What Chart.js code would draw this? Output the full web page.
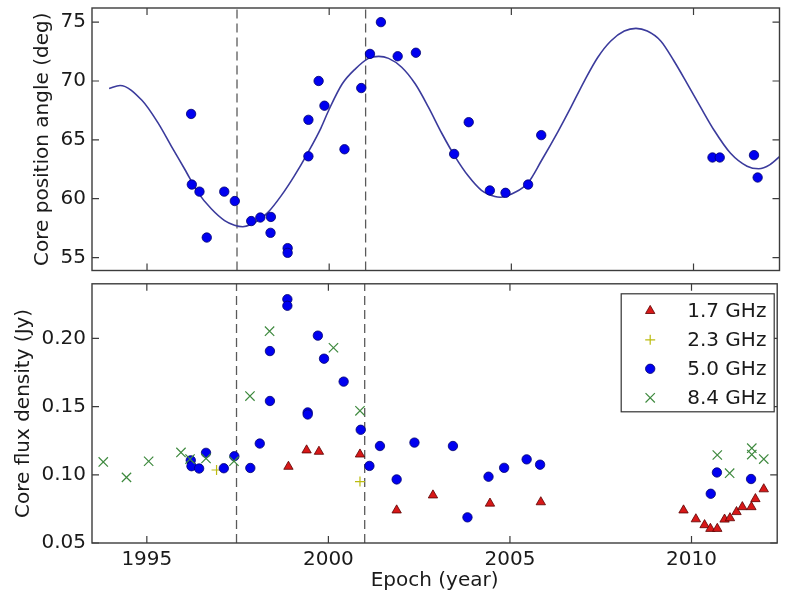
<!DOCTYPE html>
<html><head><meta charset="utf-8">
<script src="https://cdn.jsdelivr.net/npm/chart.js@4.4.0/dist/chart.umd.min.js"></script>
<style>
html,body{margin:0;padding:0;background:#fff;width:785px;height:597px;overflow:hidden}
#top{position:absolute;left:0;top:0}
#bot{position:absolute;left:0;top:276px}
</style></head><body>
<canvas id="top" width="785" height="276"></canvas>
<canvas id="bot" width="785" height="321"></canvas>
<script>
// ---- axes ----
const X_MIN = 1993.49, X_MAX = 2012.36;
const X_TICKS = [1995, 2000, 2005, 2010];
const X_LABELS = ['1995', '2000', '2005', '2010'];
const VLINES = [1997.47, 2001.0];
const PA_MIN = 53.9, PA_MAX = 76.2;
const PA_TICKS = [55, 60, 65, 70, 75];
const PA_LABELS = ['55', '60', '65', '70', '75'];
const FLUX_MIN = 0.05, FLUX_MAX = 0.24;
const FLUX_TICKS = [0.05, 0.10, 0.15, 0.20];
const FLUX_LABELS = ['0.05', '0.10', '0.15', '0.20'];

// ---- top panel: core position angle ----
const paEpoch = [1996.21,1996.23,1996.44,1996.64,1997.12,1997.41,1997.86,1998.11,1998.40,1998.39,1998.86,1998.86,1999.43,1999.43,1999.71,1999.87,2000.42,2000.88,2001.12,2001.42,2001.88,2002.38,2003.43,2003.83,2004.41,2004.84,2005.46,2005.82,2010.52,2010.72,2011.66,2011.76];
const paValue = [67.2,61.2,60.6,56.7,60.6,59.8,58.1,58.4,58.45,57.1,55.8,55.4,63.6,66.7,70.0,67.9,64.2,69.4,72.3,75.0,72.1,72.4,63.8,66.5,60.7,60.5,61.2,65.4,63.5,63.5,63.7,61.8];

// fitted curve
const fitEpoch = [1993.96,1994.26,1994.86,1995.31,1995.67,1996.04,1996.40,1996.77,1997.13,1997.40,1997.63,1997.85,1998.04,1998.32,1998.68,1999.04,1999.41,1999.77,2000.00,2000.36,2000.72,2001.08,2001.36,2001.63,2001.99,2002.36,2002.72,2003.09,2003.45,2003.82,2004.18,2004.55,2004.70,2005.09,2005.46,2005.82,2006.28,2006.64,2007.01,2007.37,2007.73,2008.10,2008.42,2008.73,2009.10,2009.46,2009.83,2010.19,2010.56,2011.01,2011.47,2011.79,2012.10,2012.42];
const fitValue = [69.37,69.62,68.36,66.4,64.45,62.48,60.52,59.12,58.14,57.75,57.62,57.8,58.14,58.84,60.24,61.92,63.88,65.98,67.6,69.76,71.03,71.92,72.09,71.92,71.17,69.76,67.8,65.56,63.6,61.92,60.71,60.18,60.12,60.52,61.36,63.2,65.7,67.8,70.04,72.0,73.4,74.24,74.47,74.24,73.4,71.72,69.76,67.8,65.84,63.88,62.76,62.54,62.9,63.74];

// ---- bottom panel: core flux density ----
const f17Epoch = [1998.90,1999.40,1999.74,2000.87,2001.88,2002.88,2004.45,2005.85,2009.78,2010.12,2010.36,2010.52,2010.71,2010.91,2011.06,2011.24,2011.40,2011.65,2011.76,2011.99];
const f17Flux  = [0.106,0.118,0.117,0.115,0.074,0.085,0.079,0.080,0.074,0.0675,0.0632,0.0605,0.0605,0.0673,0.0683,0.0728,0.0764,0.0764,0.0823,0.0895];
const f23Epoch = [1996.92,2000.87];
const f23Flux  = [0.1035,0.0950];
const f50Epoch = [1996.21,1996.23,1996.44,1996.63,1997.12,1997.41,1997.85,1998.11,1998.39,1998.39,1998.87,1998.87,1999.43,1999.43,1999.71,1999.88,2000.42,2000.89,2001.13,2001.42,2001.88,2002.37,2003.43,2003.83,2004.41,2004.84,2005.46,2005.83,2010.53,2010.70,2011.64];
const f50Flux  = [0.1106,0.1063,0.1046,0.1161,0.1048,0.1136,0.1050,0.1229,0.1907,0.1541,0.2287,0.2239,0.1457,0.1442,0.2020,0.1851,0.1683,0.1330,0.1065,0.1211,0.0966,0.1236,0.1211,0.0688,0.0986,0.1051,0.1113,0.1074,0.0861,0.1017,0.0969];
const f84Epoch = [1993.80,1994.44,1995.05,1995.94,1996.19,1996.63,1997.40,1997.84,1998.38,2000.14,2000.87,2010.71,2011.05,2011.66,2011.66,2011.99];
const f84Flux  = [0.1094,0.0981,0.1099,0.1164,0.1115,0.1120,0.1100,0.1577,0.2053,0.1931,0.1469,0.1145,0.1012,0.1195,0.1148,0.1115];

const SERIES_NAMES = ['1.7 GHz', '2.3 GHz', '5.0 GHz', '8.4 GHz'];

// ---- styling ----
const FONT = '"DejaVu Sans", "Liberation Sans", sans-serif';
const TXT = '#1a1a1a';
const FRAME = '#3c3c3c';
const TL = 7;
const ST = {
  r17: {style:'triangle', fill:'#d81818', stroke:'#5a0000', r:5.4, bw:0.8},
  r23: {style:'cross', fill:'#c0c000', stroke:'#bcbc10', r:5, bw:1.2},
  r50: {style:'circle', fill:'#0000f0', stroke:'#00006e', r:4.7, bw:0.8},
  r84: {style:'crossRot', fill:'#3f8a3f', stroke:'#3f8a3f', r:6.6, bw:1.2}
};

Chart.defaults.font.family = FONT;
Chart.defaults.color = TXT;

const zip = (a, b) => a.map((v, i) => ({x: v, y: b[i]}));

function scatterDs(label, ex, ey, s, order) {
  return {type:'scatter', label, data: zip(ex, ey), pointStyle: s.style,
    pointRadius: s.r, pointBackgroundColor: s.fill, pointBorderColor: s.stroke,
    pointBorderWidth: s.bw, borderColor: s.stroke, backgroundColor: s.fill, showLine:false, order};
}
function vlineDs(v, lo, hi) {
  return {type:'line', data:[{x:v, y:lo},{x:v, y:hi}], borderColor:'#5a5a5a', borderWidth:1.3,
    borderDash:[9,5], pointRadius:0, showLine:true, fill:false, order:10};
}

const framePlugin = {
  id: 'frame',
  afterDatasetsDraw(chart) {
    const {ctx, chartArea: a, scales: {x, y}} = chart;
    ctx.save();
    ctx.strokeStyle = FRAME; ctx.lineWidth = 1.2;
    ctx.beginPath();
    X_TICKS.forEach(v => {
      const px = x.getPixelForValue(v);
      ctx.moveTo(px, a.bottom); ctx.lineTo(px, a.bottom - TL);
      ctx.moveTo(px, a.top); ctx.lineTo(px, a.top + TL);
    });
    y.ticks.forEach(t => {
      const py = y.getPixelForValue(t.value);
      ctx.moveTo(a.left, py); ctx.lineTo(a.left + TL, py);
      ctx.moveTo(a.right, py); ctx.lineTo(a.right - TL, py);
    });
    ctx.stroke();
    ctx.lineWidth = 1.4;
    ctx.strokeRect(a.left, a.top, a.right - a.left, a.bottom - a.top);
    ctx.restore();
  }
};

function drawMarker(ctx, s, x, y) {
  ctx.save();
  ctx.fillStyle = s.fill; ctx.strokeStyle = s.stroke; ctx.lineWidth = s.bw;
  const r = s.r;
  ctx.beginPath();
  if (s.style === 'triangle') {
    ctx.moveTo(x, y - r);
    ctx.lineTo(x + r * 0.866, y + r * 0.5);
    ctx.lineTo(x - r * 0.866, y + r * 0.5);
    ctx.closePath(); ctx.fill(); ctx.stroke();
  } else if (s.style === 'circle') {
    ctx.arc(x, y, r, 0, Math.PI * 2); ctx.fill(); ctx.stroke();
  } else if (s.style === 'cross') {
    ctx.moveTo(x - r, y); ctx.lineTo(x + r, y); ctx.moveTo(x, y - r); ctx.lineTo(x, y + r); ctx.stroke();
  } else {
    const d = r * 0.7071;
    ctx.moveTo(x - d, y - d); ctx.lineTo(x + d, y + d); ctx.moveTo(x + d, y - d); ctx.lineTo(x - d, y + d); ctx.stroke();
  }
  ctx.restore();
}

const legendPlugin = {
  id: 'boxLegend',
  afterDraw(chart) {
    const {ctx, chartArea: a} = chart;
    const bx = a.right - 156, by = a.top + 10, bw = 153, bh = 118;
    ctx.save();
    ctx.fillStyle = '#fff'; ctx.fillRect(bx, by, bw, bh);
    ctx.strokeStyle = '#333'; ctx.lineWidth = 1.2; ctx.strokeRect(bx, by, bw, bh);
    const styles = [ST.r17, ST.r23, ST.r50, ST.r84];
    const rowsY = [27, 56, 85, 114];
    ctx.font = '20px ' + FONT; ctx.fillStyle = TXT; ctx.textBaseline = 'middle'; ctx.textAlign = 'left';
    SERIES_NAMES.forEach((n, i) => {
      const yy = a.top + rowsY[i];
      drawMarker(ctx, styles[i], a.right - 127, yy);
      ctx.fillStyle = TXT;
      ctx.fillText(n, a.right - 90, yy + 1);
    });
    ctx.restore();
  }
};

function xScale(showLabels) {
  const o = {
    type:'linear', min:X_MIN, max:X_MAX,
    afterBuildTicks: s => { s.ticks = X_TICKS.map(v => ({value:v})); },
    grid:{display:false, drawTicks:false}, border:{display:false},
    ticks:{display:showLabels, padding:5, maxRotation:0, autoSkip:false,
      font:{size:20, family:FONT}, color:TXT, callback:(v, i) => X_LABELS[i]},
    afterFit: s => { s.height = showLabels ? 54 : 2; s.paddingLeft = 0; s.paddingRight = 0; }
  };
  if (showLabels) o.title = {display:true, text:'Epoch (year)', font:{size:20, family:FONT}, color:TXT, padding:{top:0, bottom:4}};
  return o;
}
function yScale(min, max, ticks, labels, title, titlePad) {
  return {
    type:'linear', min, max,
    afterBuildTicks: s => { s.ticks = ticks.map(v => ({value:v})); },
    grid:{display:false, drawTicks:false}, border:{display:false},
    ticks:{padding:6, autoSkip:false, font:{size:20, family:FONT}, color:TXT, callback:(v, i) => labels[i]},
    title:{display:true, text:title, font:{size:20, family:FONT}, color:TXT, padding:{top:titlePad, bottom:0}},
    afterFit: s => { s.width = 92; s.paddingTop = 0; s.paddingBottom = 0; }
  };
}

const common = {
  responsive:false, animation:false, devicePixelRatio:1,
  plugins:{legend:{display:false}, tooltip:{enabled:false}}
};

new Chart(document.getElementById('top'), {
  type:'scatter',
  data:{datasets:[
    scatterDs('position angle', paEpoch, paValue, ST.r50, 0),
    {type:'line', label:'fit', data: zip(fitEpoch, fitValue), borderColor:'#3b3b9c', borderWidth:1.6,
      pointRadius:0, showLine:true, fill:false, cubicInterpolationMode:'monotone', order:1},
    vlineDs(VLINES[0], PA_MIN, PA_MAX), vlineDs(VLINES[1], PA_MIN, PA_MAX)
  ]},
  options:Object.assign({}, common, {
    layout:{padding:{top:8, right:2, left:0, bottom:0}},
    scales:{x:xScale(false), y:yScale(PA_MIN, PA_MAX, PA_TICKS, PA_LABELS, 'Core position angle (deg)', 31)}
  }),
  plugins:[framePlugin]
});

new Chart(document.getElementById('bot'), {
  type:'scatter',
  data:{datasets:[
    scatterDs(SERIES_NAMES[3], f84Epoch, f84Flux, ST.r84, 0),
    scatterDs(SERIES_NAMES[2], f50Epoch, f50Flux, ST.r50, 1),
    scatterDs(SERIES_NAMES[1], f23Epoch, f23Flux, ST.r23, 2),
    scatterDs(SERIES_NAMES[0], f17Epoch, f17Flux, ST.r17, 3),
    vlineDs(VLINES[0], FLUX_MIN, FLUX_MAX), vlineDs(VLINES[1], FLUX_MIN, FLUX_MAX)
  ]},
  options:Object.assign({}, common, {
    layout:{padding:{top:4, right:2, left:0, bottom:0}},
    scales:{x:xScale(true), y:yScale(FLUX_MIN, FLUX_MAX, FLUX_TICKS, FLUX_LABELS, 'Core flux density (Jy)', 12)}
  }),
  plugins:[framePlugin, legendPlugin]
});
</script>
</body></html>
